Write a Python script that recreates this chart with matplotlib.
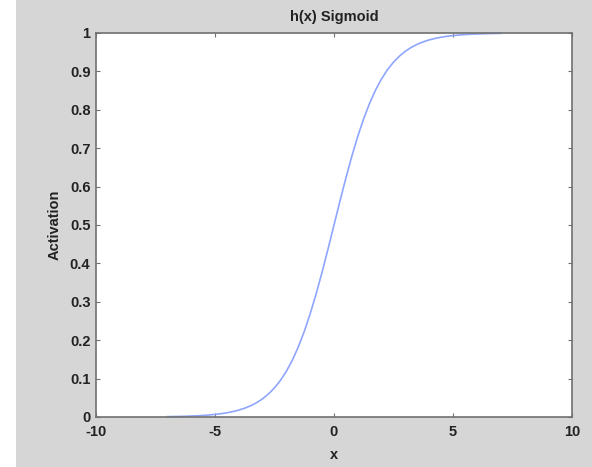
import matplotlib
matplotlib.use("Agg")
import matplotlib.pyplot as plt
from matplotlib.patches import Rectangle

# values
x_vals = [-7.0, -6.75, -6.5, -6.25, -6.0, -5.75, -5.5, -5.25, -5.0, -4.75,
          -4.5, -4.25, -4.0, -3.75, -3.5, -3.25, -3.0, -2.75, -2.5, -2.25,
          -2.0, -1.75, -1.5, -1.25, -1.0, -0.75, -0.5, -0.25, 0.0,
          0.25, 0.5, 0.75, 1.0, 1.25, 1.5, 1.75, 2.0, 2.25, 2.5,
          2.75, 3.0, 3.25, 3.5, 3.75, 4.0, 4.25, 4.5, 4.75, 5.0,
          5.25, 5.5, 5.75, 6.0, 6.25, 6.5, 6.75, 7.0]
activation = [0.0009, 0.0012, 0.0015, 0.0019, 0.0025, 0.0032, 0.0041, 0.0052, 0.0067, 0.0086,
              0.0110, 0.0141, 0.0180, 0.0230, 0.0293, 0.0373, 0.0474, 0.0601, 0.0759, 0.0954,
              0.1192, 0.1481, 0.1824, 0.2227, 0.2689, 0.3208, 0.3775, 0.4378, 0.5000,
              0.5622, 0.6225, 0.6792, 0.7311, 0.7773, 0.8176, 0.8519, 0.8808, 0.9046, 0.9241,
              0.9399, 0.9526, 0.9627, 0.9707, 0.9770, 0.9820, 0.9859, 0.9890, 0.9914, 0.9933,
              0.9948, 0.9959, 0.9968, 0.9975, 0.9981, 0.9985, 0.9988, 0.9991]

x_ticks = [-10, -5, 0, 5, 10]
x_tick_labels = ["-10", "-5", "0", "5", "10"]
y_ticks = [0, 0.1, 0.2, 0.3, 0.4, 0.5, 0.6, 0.7, 0.8, 0.9, 1]
y_tick_labels = ["0", "0.1", "0.2", "0.3", "0.4", "0.5", "0.6", "0.7", "0.8", "0.9", "1"]

plt.rcParams['font.family'] = ['Liberation Sans', 'DejaVu Sans']
plt.rcParams['font.weight'] = 'bold'
plt.rcParams['axes.titleweight'] = 'bold'
plt.rcParams['axes.labelweight'] = 'bold'
bg = "#d6d6d6"
edge = "#707070"
txt = "#222222"
fs = 10.5

fig = plt.figure(figsize=(5.92, 4.67), dpi=100, facecolor=bg)
# white strip on the left edge of the window
fig.patches.append(Rectangle((0, 0), 16 / 592, 1, transform=fig.transFigure,
                             facecolor="white", edgecolor="none", zorder=-1))

ax = fig.add_axes([96 / 592, 50 / 467, 476 / 592, 384 / 467])
ax.plot(x_vals, activation, color="#8fa6ff", lw=1.2, clip_on=False)
ax.set_xlim(-10, 10)
ax.set_ylim(0, 1)
ax.set_xticks(x_ticks)
ax.set_xticklabels(x_tick_labels)
ax.set_yticks(y_ticks)
ax.set_yticklabels(y_tick_labels)
ax.tick_params(direction="in", top=True, right=True, length=3, width=0.8,
               color=edge, labelcolor=txt, labelsize=fs)
ax.tick_params(axis="x", pad=6)
ax.tick_params(axis="y", pad=4)
for sp in ax.spines.values():
    sp.set_color(edge)
    sp.set_linewidth(1.2)

ax.set_title("h(x) Sigmoid", fontsize=fs, color=txt, pad=9)
ax.set_xlabel("x", fontsize=fs, color=txt, labelpad=6)
ax.set_ylabel("Activation", fontsize=fs, color=txt, labelpad=6)

fig.savefig("out.png", dpi=100, facecolor=bg)
